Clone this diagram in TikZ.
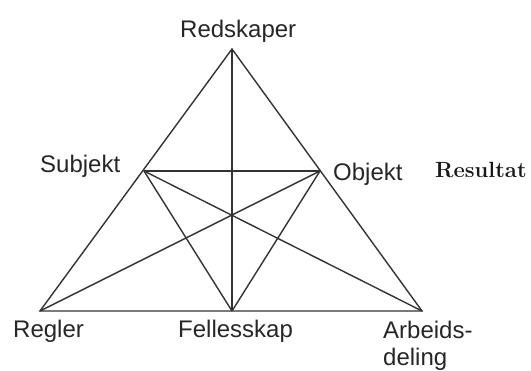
\documentclass[tikz,border=0pt]{standalone}
\usepackage{fontspec}
\setsansfont{Liberation Sans}
\usetikzlibrary{positioning}

\begin{document}
\begin{tikzpicture}[x=1pt, y=-1pt, font=\sffamily\fontsize{24}{27}\selectfont,
      kant/.style={line width=1.4pt, draw=black!80},
      lbl/.style={inner sep=0pt, align=left, text=black!85}]
    \useasboundingbox (0,0) rectangle (531,371);
    % hjørner
    \coordinate (red) at (232,49);
    \coordinate (reg) at (40,311);
    \coordinate (fel) at (232,311);
    \coordinate (arb) at (422,311);
    \coordinate (sub) at (144,171);
    \coordinate (obj) at (320,171);
    % tekster
    \node[lbl, anchor=base west] (redtxt) at (180,38) {Redskaper};
    \node[lbl, anchor=base west] (subtxt) at (40,173) {Subjekt};
    \node[lbl, anchor=base west] (objtxt) at (333,181) {Objekt};
    \node[lbl, anchor=base west, font=\rmfamily\bfseries\fontsize{22}{26}\selectfont, text=black!90] (restxt) at (435,178) {Resultat};
    \node[lbl, anchor=base west] (regtxt) at (13,338) {Regler};
    \node[lbl, anchor=base west] (feltxt) at (178,338) {Fellesskap};
    \node[lbl, anchor=north west] (arbtxt) at (383,321) {Arbeids-\\deling};
    % linjer
    \draw[kant] (red) -- (reg) -- (arb) -- cycle;
    \draw[kant] (red) -- (fel);
    \draw[kant] (sub) -- (obj);
    \draw[kant] (sub) -- (fel); \draw[kant] (sub) -- (arb);
    \draw[kant] (obj) -- (fel); \draw[kant] (obj) -- (reg);
\end{tikzpicture}
\end{document}
